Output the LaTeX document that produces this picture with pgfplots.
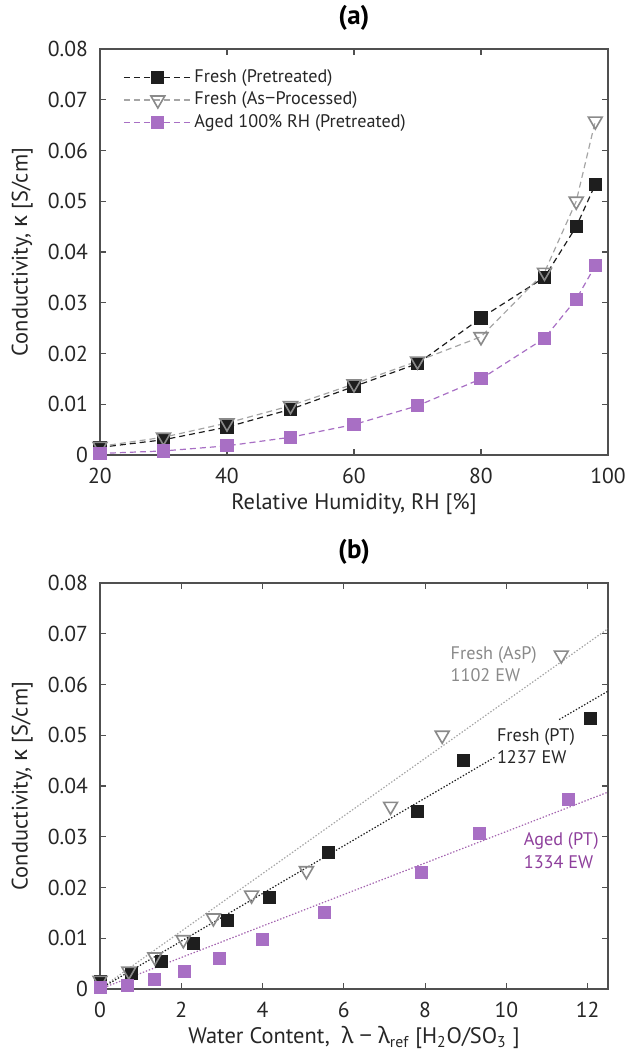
\documentclass[border=0pt]{standalone}
\usepackage{fontspec}
\setmainfont{PT Sans}
\newfontfamily\grk{Noto Sans}
\usepackage{pgfplots}
\pgfplotsset{compat=1.18}
\definecolor{pur}{HTML}{A86FC4}
\definecolor{purtxt}{HTML}{8E3F9C}
\definecolor{gr}{HTML}{8A8A8A}
\definecolor{grl}{HTML}{A5A5A5}
\definecolor{blk}{HTML}{1E1E1E}
\definecolor{axc}{HTML}{505050}
\newsavebox\tmpbox
\newlength\tmplen
% font size (pt) that gives text #3 the width #2 (pt)
\newcommand\fitfs[3]{\sbox\tmpbox{\fontsize{10}{12}\selectfont #3}\tmplen=\wd\tmpbox\pgfmathsetmacro#1{10*#2/\the\tmplen}}
\newcommand\fitbf[3]{\sbox\tmpbox{\fontsize{10}{12}\selectfont\bfseries #3}\tmplen=\wd\tmpbox\pgfmathsetmacro#1{10*#2/\the\tmplen}}
\AtBeginDocument{%
\fitfs{\fsLabel}{122.6}{Relative Humidity, RH [\%]}%
\fitfs{\fsLeg}{69}{Fresh (Pretreated)}%
\fitfs{\fsTick}{20}{0.08}%
\fitfs{\fsAnn}{43}{Fresh (AsP)}%
\fitbf{\fsTitle}{15.5}{(a)}%
}
\newcommand\FL{\fontsize{\fsLabel pt}{14pt}\selectfont}
\newcommand\FG{\fontsize{\fsLeg pt}{12pt}\selectfont}
\newcommand\FT{\fontsize{\fsTick pt}{14pt}\selectfont}
\newcommand\FA{\fontsize{\fsAnn pt}{11.2pt}\selectfont}
\newcommand\FH{\fontsize{\fsTitle pt}{16pt}\selectfont\bfseries}
\pgfplotsset{
 myaxis/.style={
  width=254pt, height=203pt, scale only axis,
  ymin=0, ymax=0.08, ytick={0,0.01,0.02,0.03,0.04,0.05,0.06,0.07,0.08},
  scaled y ticks=false,
  yticklabel style={/pgf/number format/fixed,/pgf/number format/precision=2, xshift=-2.5pt},
  xticklabel style={yshift=-3pt},
  /pgf/number format/assume math mode=true,
  tick align=inside, major tick length=3pt,
  axis line style={axc, line width=0.6pt},
  every tick/.style={axc, line width=0.6pt},
  tick label style={font=\FT, text=black!85},
  label style={font=\FL, text=black!85},
  ylabel={Conductivity, {\grk κ} [S/cm]},
  ylabel style={at={(axis description cs:-0.153,0.5)}, anchor=center},
  xlabel style={at={(axis description cs:0.5,-0.12)}, anchor=center},
  title style={font=\FH, at={(axis description cs:0.5,1)}, anchor=south, inner sep=0pt, yshift=3pt},
 },
 bser/.style={blk, line width=0.6pt, dash pattern=on 3pt off 2pt, mark=square*, mark size=3pt, mark options={solid, fill=blk, draw=blk}},
 gser/.style={grl, line width=0.6pt, dash pattern=on 3pt off 2pt, mark=triangle, mark size=4pt, mark options={solid, rotate=180, fill=white, draw=gr, line width=0.8pt}},
 pser/.style={pur, line width=0.6pt, dash pattern=on 3pt off 2pt, mark=square*, mark size=3pt, mark options={solid, fill=pur, draw=pur}},
}
\begin{document}
\begin{tikzpicture}
\path[use as bounding box] (-50pt,-297.5pt) rectangle (267pt,227.5pt);
\begin{axis}[myaxis, at={(0,0)}, anchor=south west,
  title={(a)},
  xmin=20, xmax=100, xtick={20,40,60,80,100},
  xlabel={Relative Humidity, RH [\%]},
  legend style={at={(axis description cs:0.045,0.958)}, anchor=north west, draw=none, fill=none,
    font=\FG, text=black!85, row sep=0.25pt, inner sep=0pt,
    nodes={inner sep=1pt, text height=7pt, text depth=2pt}},
  legend cell align=left,
  legend image code/.code={\draw[mark repeat=2,mark phase=2,#1] plot coordinates {(0pt,0pt) (17pt,0pt) (34pt,0pt)};},
]
\addplot[bser] coordinates {(20,0.0015) (30,0.0030) (40,0.0055) (50,0.0090) (60,0.0135) (70,0.0180) (80,0.0270) (90,0.0350) (95,0.0450) (98,0.0533)};
\addlegendentry{Fresh (Pretreated)}
\addplot[gser] coordinates {(20,0.0017) (30,0.0035) (40,0.0063) (50,0.0097) (60,0.0140) (70,0.0185) (80,0.0233) (90,0.0360) (95,0.0500) (98,0.0658)};
\addlegendentry{Fresh (As{\grk −}Processed)}
\addplot[pser] coordinates {(20,0.0003) (30,0.0008) (40,0.0018) (50,0.0035) (60,0.0060) (70,0.0097) (80,0.0150) (90,0.0230) (95,0.0307) (98,0.0373)};
\addlegendentry{Aged 100\% RH (Pretreated)}
\end{axis}
\begin{axis}[myaxis, at={(0,-267pt)}, anchor=south west,
  title={(b)},
  xmin=0, xmax=12.5, xtick={0,2,4,6,8,10,12},
  xlabel={Water Content, \ {\grk λ} {\grk −} {\grk λ}\textsubscript{ref} [H\textsubscript{2}O/SO\textsubscript{3} ]},
]
% fit lines
\addplot[grl, line width=0.6pt, dash pattern=on 0.7pt off 0.9pt] coordinates {(0.1,0.0006) (12.5,0.0710)};
\addplot[blk, line width=0.6pt, dash pattern=on 0.7pt off 0.9pt] coordinates {(0.1,0.0005) (9.72,0.0457)};
\addplot[blk, line width=0.6pt, dash pattern=on 0.7pt off 0.9pt] coordinates {(11.3,0.0531) (12.5,0.0587)};
\addplot[purtxt!80, line width=0.6pt, dash pattern=on 0.7pt off 0.9pt] coordinates {(0.1,0.0003) (12.5,0.0388)};
% data
\addplot[only marks, mark=square*, mark size=3pt, mark options={fill=blk, draw=blk}] coordinates {(0,0.0015) (0.78,0.0030) (1.52,0.0055) (2.30,0.0090) (3.14,0.0135) (4.16,0.0180) (5.61,0.0270) (7.80,0.0350) (8.94,0.0450) (12.06,0.0533)};
\addplot[only marks, mark=triangle, mark size=4pt, mark options={rotate=180, fill=white, draw=gr, line width=0.8pt}] coordinates {(0,0.0017) (0.71,0.0035) (1.35,0.0063) (2.05,0.0097) (2.79,0.0140) (3.73,0.0185) (5.08,0.0233) (7.15,0.0360) (8.42,0.0500) (11.35,0.0658)};
\addplot[only marks, mark=square*, mark size=3pt, mark options={fill=pur, draw=pur}] coordinates {(0,0.0003) (0.67,0.0008) (1.35,0.0018) (2.07,0.0035) (2.93,0.0060) (3.99,0.0097) (5.53,0.0150) (7.90,0.0230) (9.33,0.0307) (11.52,0.0373)};
\node[anchor=west, align=left, text=gr, font=\FA, inner sep=0pt] at (axis cs:8.62,0.064) {Fresh (AsP)\\1102 EW};
\node[anchor=west, align=left, text=black!85, font=\FA, inner sep=0pt] at (axis cs:9.76,0.0479) {Fresh (PT)\\1237 EW};
\node[anchor=west, align=left, text=purtxt, font=\FA, inner sep=0pt] at (axis cs:10.42,0.0273) {Aged (PT)\\1334 EW};
\end{axis}
\end{tikzpicture}
\end{document}
